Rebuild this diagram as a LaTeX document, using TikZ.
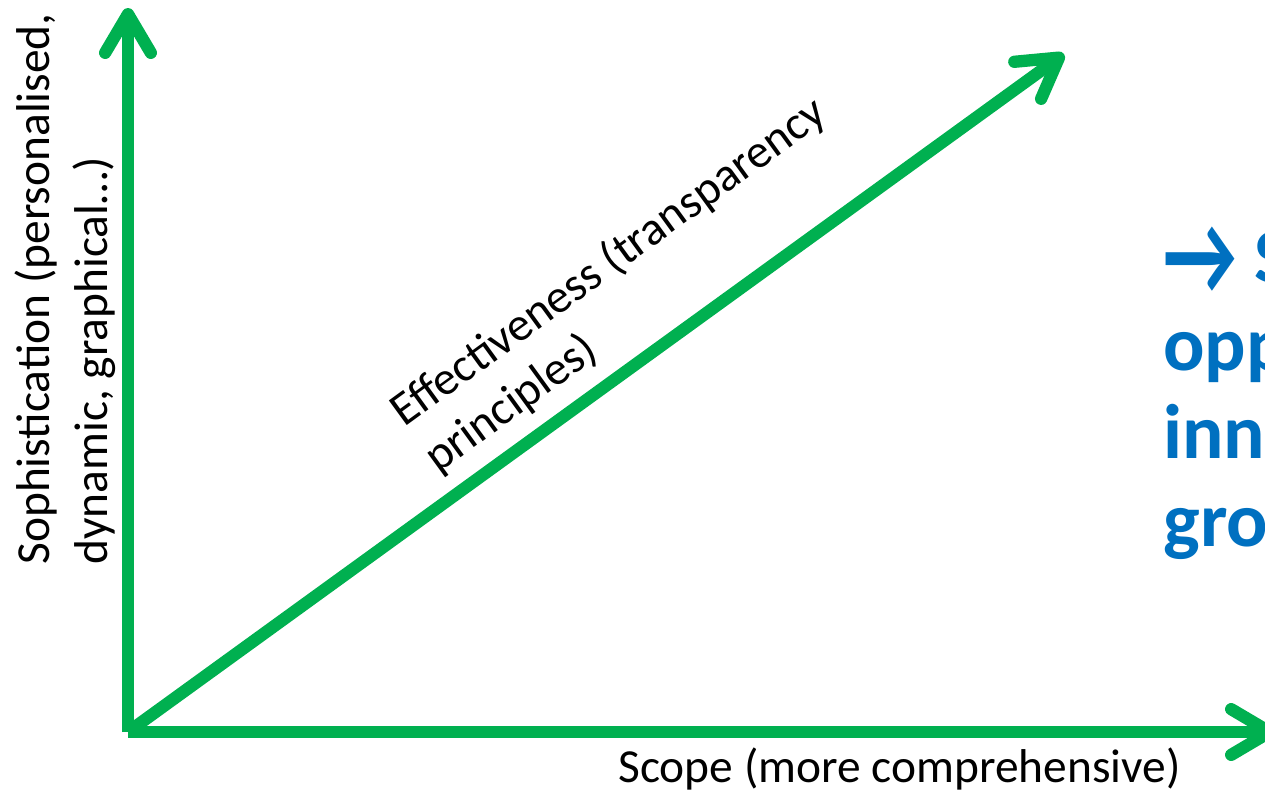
\documentclass[tikz,border=0pt]{standalone}
\usepackage{fontspec}
\setmainfont{Carlito}
\usetikzlibrary{arrows.meta}
\definecolor{axisgreen}{HTML}{00B050}
\definecolor{noteblue}{HTML}{0070C0}
\tikzset{
        axis/.style={draw=axisgreen, line width=7pt, -{Straight Barb[length=22pt, width=26pt, round]}},
        axislabel/.style={font=\fontsize{27}{32.5}\selectfont, inner sep=0pt, align=left, anchor=base west},
        note/.style={font=\fontsize{44}{50}\selectfont\bfseries, text=noteblue, inner sep=0pt, align=left, anchor=base west},
    }
\begin{document}
\begin{tikzpicture}[x=0.02cm, y=-0.02cm]
        \useasboundingbox (0,0) rectangle (1265,796);
        \clip (0,0) rectangle (1265,796);

        % Origin and axis ends
        \coordinate (origin) at (128,732);
        \coordinate (ytip) at (128,8);
        \coordinate (xtip) at (1276,732);
        \coordinate (dtip) at (1064,54);

        % Axes
        \draw[axis] (origin) -- (ytip);
        \draw[axis] (origin) -- (xtip);
        \draw[axis] (origin) -- (dtip);

        % Axis labels (anchored on the last line)
        \node[axislabel] (scope) at (618,782) {Scope (more comprehensive)};
        \node[axislabel, rotate=90] (soph) at (107,565) {Sophistication (personalised,\\dynamic, graphical…)};
        \node[axislabel, rotate=36] (effect) at (438,474) {Effectiveness (transparency\\principles)};

        % Note on the right, arrow stretched to cap height
        \node[note] (gain) at (1163,546) {\raisebox{-0.16em}{\scalebox{1.05}[1.5]{→}} S\\opp\\inno\\grow};
    \end{tikzpicture}
\end{document}
